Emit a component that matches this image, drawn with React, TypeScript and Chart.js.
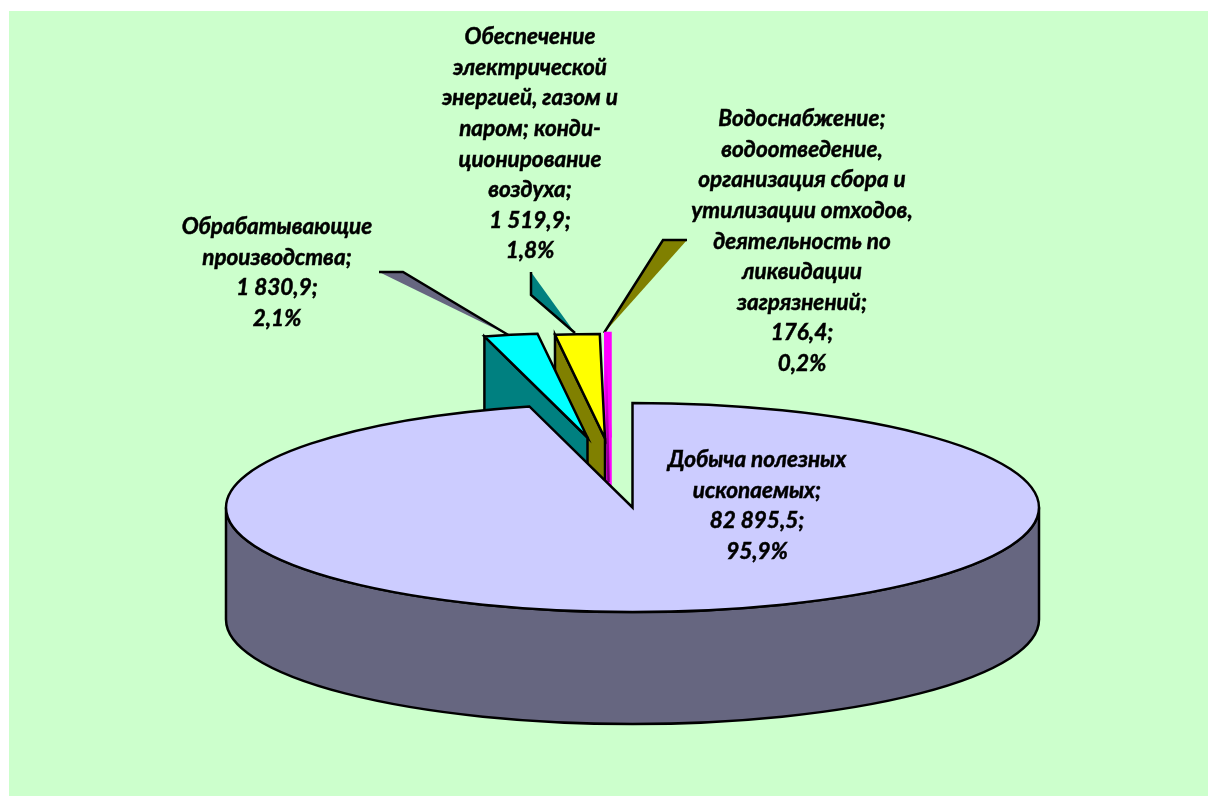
import React, { useEffect, useRef } from "react";
import { Chart, registerables } from "chart.js";

Chart.register(...registerables);

const categories = [
  "Добыча полезных ископаемых",
  "Обрабатывающие производства",
  "Обеспечение электрической энергией, газом и паром; кондиционирование воздуха",
  "Водоснабжение; водоотведение, организация сбора и утилизации отходов, деятельность по ликвидации загрязнений",
];
const values = [82895.5, 1830.9, 1519.9, 176.4];
const valueLabels = ["82 895,5;", "1 830,9;", "1 519,9;", "176,4;"];
const percentLabels = ["95,9%", "2,1%", "1,8%", "0,2%"];
const wrappedNames = [
  ["Добыча полезных", "ископаемых;"],
  ["Обрабатывающие", "производства;"],
  ["Обеспечение", "электрической", "энергией, газом и", "паром; конди-", "ционирование", "воздуха;"],
  ["Водоснабжение;", "водоотведение,", "организация сбора и", "утилизации отходов,", "деятельность по", "ликвидации", "загрязнений;"],
];
const topColors = ["#CCCCFF", "#00FFFF", "#FFFF00", "#FF00FF"];
const wallColors = ["#666680", "#008080", "#808000", "#FF00FF"];

// layout of the tilted pie
const CX = 632.5, CY = 507.5, RX = 406.5, RY = 104.5, DEPTH = 112;
const EXPLODE = [[0, 0], [-45, -70], [-27.5, -69], [-22, -70]];
const LABEL_POS = [[757, 460], [277, 227], [530, 37], [802, 119]];
const LINE_STEP = 30.6;
const FONT = 'italic bold 22.5px Lato, "Open Sans", sans-serif';

// the thin leader wedges from the exploded slices
const WEDGES = [
  { fill: wallColors[0], poly: [[379, 272], [403, 272], [510, 336]], line: [[379, 272], [403, 272], [510, 336]] },
  { fill: wallColors[1], poly: [[531, 272], [531, 295], [575, 333]], line: [[531, 272], [531, 295], [575, 333]] },
  { fill: wallColors[2], poly: [[663, 240], [687, 240], [604, 333]], line: [[687, 240], [663, 240], [604, 333]] },
];

const pie3d = {
  id: "pie3d",
  beforeDraw(chart: any) {
    const { ctx, width, height } = chart;
    ctx.save();
    ctx.fillStyle = "#CCFFCC";
    ctx.fillRect(9, 11, width - 9, height - 11);
    ctx.restore();
  },
  beforeDatasetsDraw(chart: any) {
    const { ctx, chartArea } = chart;
    const arcs = chart.getDatasetMeta(0).data;
    ctx.save();
    ctx.lineWidth = 2.5;
    ctx.lineJoin = "miter";
    ctx.strokeStyle = "#000";

    for (const w of WEDGES) {
      ctx.fillStyle = w.fill;
      ctx.beginPath();
      w.poly.forEach(([x, y], i) => (i ? ctx.lineTo(x, y) : ctx.moveTo(x, y)));
      ctx.closePath();
      ctx.fill();
      ctx.beginPath();
      w.line.forEach(([x, y], i) => (i ? ctx.lineTo(x, y) : ctx.moveTo(x, y)));
      ctx.stroke();
    }

    const place = (arc: any, i: number, dy = 0) => {
      const s = arc.outerRadius;
      ctx.translate(CX + EXPLODE[i][0], CY + EXPLODE[i][1] + dy);
      ctx.scale(RX / s, RY / s);
      ctx.translate(-arc.x, -arc.y);
    };

    for (let i = arcs.length - 1; i >= 0; i--) {
      const arc = arcs[i];
      const { x, y, outerRadius: r, startAngle, endAngle } = arc;

      // side wall
      ctx.fillStyle = wallColors[i];
      ctx.strokeStyle = i === 3 ? wallColors[3] : "#000";
      const base = ctx.getTransform();
      ctx.beginPath();
      if (i === 0) {
        place(arc, i);
        ctx.arc(x, y, r, 0, Math.PI);
        ctx.setTransform(base);
        place(arc, i, DEPTH);
        ctx.arc(x, y, r, Math.PI, 0, true);
      } else {
        const a = Math.cos(startAngle) * r, b = Math.sin(startAngle) * r;
        place(arc, i);
        ctx.moveTo(x + a, y + b);
        ctx.lineTo(x, y);
        ctx.setTransform(base);
        place(arc, i, DEPTH);
        ctx.lineTo(x, y);
        ctx.lineTo(x + a, y + b);
      }
      ctx.closePath();
      ctx.setTransform(base);
      ctx.fill();
      ctx.stroke();

      // top face, drawn by the library's own arc element
      ctx.save();
      place(arc, i);
      arc.draw(ctx, chartArea);
      ctx.restore();

      ctx.beginPath();
      place(arc, i);
      ctx.moveTo(x, y);
      ctx.arc(x, y, r, startAngle, endAngle);
      ctx.closePath();
      ctx.setTransform(base);
      ctx.stroke();

      if (i === 3) {
        // darker streak where the thin slice's inner walls overlap
        const streak = ctx.createLinearGradient(0, 360, 0, 480);
        streak.addColorStop(0, "rgba(90,0,90,0)");
        streak.addColorStop(1, "rgba(90,0,90,0.85)");
        ctx.strokeStyle = streak;
        ctx.beginPath();
        ctx.moveTo(606, 360);
        ctx.lineTo(608.5, 482);
        ctx.stroke();
      }
    }
    ctx.restore();
    return false;
  },
  afterDraw(chart: any) {
    const { ctx } = chart;
    ctx.save();
    ctx.font = FONT;
    ctx.textAlign = "center";
    ctx.textBaseline = "middle";
    ctx.fillStyle = "#000";
    ctx.strokeStyle = "#000";
    ctx.lineWidth = 0.5;
    wrappedNames.forEach((name, i) => {
      const lines = [...name, valueLabels[i], percentLabels[i]];
      lines.forEach((t, k) => {
        const ty = LABEL_POS[i][1] + k * LINE_STEP;
        ctx.fillText(t, LABEL_POS[i][0], ty);
        ctx.strokeText(t, LABEL_POS[i][0], ty);
      });
    });
    ctx.restore();
  },
};

export default function App() {
  const ref = useRef<HTMLCanvasElement>(null);
  useEffect(() => {
    const chart = new Chart(ref.current as HTMLCanvasElement, {
      type: "pie",
      data: {
        labels: categories,
        datasets: [{ data: values, backgroundColor: topColors, borderWidth: 0 }],
      },
      options: {
        responsive: false,
        animation: false,
        plugins: { legend: { display: false }, tooltip: { enabled: false } },
      },
      plugins: [pie3d],
    } as any);
    return () => chart.destroy();
  }, []);
  return (
    <canvas
      ref={ref}
      width={1208}
      height={796}
      style={{ position: "fixed", left: 0, top: 0, width: 1208, height: 796, display: "block" }}
    />
  );
}
